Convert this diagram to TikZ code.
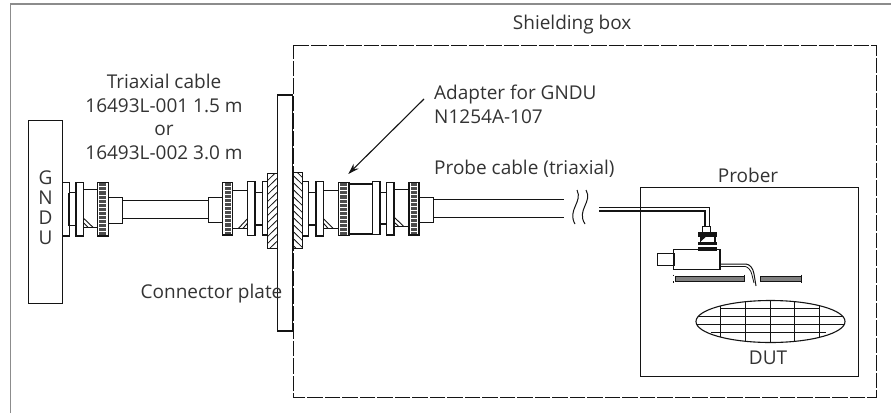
\documentclass[tikz,border=0pt]{standalone}
\usepackage{fontspec}
\setmainfont{Open Sans}
\usetikzlibrary{arrows.meta,shapes.geometric}
\definecolor{ink}{HTML}{141414}
\definecolor{txt}{HTML}{333333}
\definecolor{framegray}{HTML}{8C8C8C}
\tikzset{
  part/.style={draw=ink,line width=1.1pt,fill=white},
  lbl/.style={font=\fontsize{19}{23.5}\selectfont,text=txt,inner sep=0pt,align=center},
  cablew/.style={draw=ink,line width=1.2pt},
  hatchl/.style={draw=ink,line width=0.8pt},
}
% knurled ring: x1 x2 y1 y2
\newcommand{\knurlring}[4]{%
  \draw[part] (#1,#3) rectangle (#2,#4);
  \fill[black!70] ({#1+2},#3) rectangle ({#2-2},#4);
  \pgfmathsetmacro{\kstep}{(#4-#3)/13}
  \foreach \ki in {1,...,12}{
    \draw[white,line width=0.9pt] (#1,{#3+\ki*\kstep}) -- (#2,{#3+\ki*\kstep});
  }
  \draw[draw=ink,line width=1.1pt] (#1,#3) rectangle (#2,#4);
}
% hatched block: x1 x2 y1 y2 direction(+1/-1)
\newcommand{\hatchblock}[5]{%
  \begin{scope}
    \clip (#1,#3) rectangle (#2,#4);
    \foreach \hy in {-20,-13,...,100}{
      \draw[hatchl] ({#1-1},{#3+\hy}) -- ({#1+30},{#3+\hy+#5*30});
    }
  \end{scope}
  \draw[draw=ink,line width=1.1pt] (#1,#3) rectangle (#2,#4);
}
\begin{document}
\begin{tikzpicture}[x=1pt,y=-1pt]
\useasboundingbox (0,0) rectangle (891,413);
% outer frame
\draw[framegray,line width=1.5pt] (10.5,413) -- (10.5,4) -- (891,4);
% shielding box
\draw[draw=ink,line width=0.95pt,dash pattern=on 15.5pt off 2pt] (293.6,45) -- (876,45) -- (876,397) -- (293.6,397) -- cycle;
% connector plate
\draw[part,fill=none] (277.3,95) rectangle (292.3,331);
% GNDU
\node[draw=ink,line width=1.1pt,minimum width=34pt,minimum height=182.5pt,inner sep=0pt,anchor=north west] (gndu) at (28,120) {};
\node[lbl] (gG) at (45.5,178) {G};
\node[lbl] (gN) at (45.5,198) {N};
\node[lbl] (gD) at (45.5,218) {D};
\node[lbl] (gU) at (45.5,238) {U};
% left connector
\draw[part] (62.3,182.7) rectangle (69.3,236);
\draw[part] (69.3,192.7) rectangle (76,225.7);
\draw[draw=ink,line width=1.8pt] (69.3,192.7) -- (69.3,225.7) (76,192.7) -- (76,225.7);
\draw[part] (76,182.7) rectangle (83.3,236);
\draw[part] (83.3,189.3) rectangle (97.3,227.3);
\draw[ink,line width=0.9pt] (83.3,218) -- (93,227.3) (83.3,222.5) -- (88,227.3);
\knurlring{97.3}{108.3}{182.7}{236}
\draw[part] (108.3,197.3) rectangle (122.3,223.3);
\draw[cablew] (122.3,200.7) -- (208.3,200.7) (122.3,218.7) -- (208.3,218.7);
\draw[part] (208.3,197.3) rectangle (222.7,222.3);
\knurlring{222.7}{232.7}{182.7}{235}
\draw[part] (232.7,190.7) rectangle (247.7,228.3);
\draw[ink,line width=0.9pt] (247.7,218.5) -- (238.5,228.3) (247.7,223) -- (243,228.3);
\draw[part] (247.7,181.7) rectangle (255,235.7);
\draw[part] (255,192.7) rectangle (262.3,225);
\draw[part] (262.3,181.7) rectangle (267.7,235);
\hatchblock{267.7}{277.3}{173.3}{248.3}{-1}
% right connector
\hatchblock{292.3}{302.7}{172.7}{248.3}{1}
\draw[draw=ink,line width=2pt] (292.6,172.7) -- (292.6,248.3);
\draw[part] (302.7,181.7) rectangle (308.7,236);
\draw[part] (308.7,192.7) rectangle (316,225);
\draw[part] (316,181.7) rectangle (323.3,236);
\draw[part] (323.3,190.7) rectangle (338.3,228.3);
\draw[ink,line width=0.9pt] (323.3,218.5) -- (333,228.3) (323.3,223) -- (328,228.3);
\knurlring{338.3}{349}{182.7}{235.7}
\draw[part] (349,184) rectangle (372.7,234);
\draw[part] (372.7,181.7) rectangle (380,234.3);
\draw[part] (380,192.7) rectangle (386.7,224);
\draw[draw=ink,line width=1.8pt] (386.7,192.7) -- (386.7,224);
\draw[part] (386.7,182.7) rectangle (394,235);
\draw[part] (394,189.3) rectangle (409,226.7);
\draw[ink,line width=0.9pt] (394,217) -- (404,226.7) (394,222) -- (399,226.7);
\knurlring{409}{419}{182.7}{235}
\draw[part] (419,197.3) rectangle (433.3,222.3);
\draw[cablew] (433.3,199.7) -- (563.5,199.7) (433.3,217.3) -- (563.5,217.3);
% break marks
\draw[ink,line width=1pt] (577,190) .. controls (583,202) and (567,210) .. (575,224);
\draw[ink,line width=1pt] (586,190) .. controls (593,202) and (576,210) .. (585,224);
% prober
\draw[draw=ink,line width=1.1pt] (640.7,187.3) rectangle (858.3,376.7);
\node[lbl] (prober) at (748,175) {Prober};
% thin cable
\draw[ink,line width=1.1pt] (599,207.2) -- (709.5,207.2) -- (709.5,226.7);
\draw[ink,line width=1.1pt] (599,211) -- (705,211) -- (705,226.7);
% probe head
\draw[part] (702.7,226.7) rectangle (710.7,232.3);
\fill[ink] (698.3,232.3) rectangle (716.7,236.7);
\draw[part] (700.7,236.7) rectangle (715,242.3);
\fill[ink] (700.7,236.7) -- (706,236.7) -- (700.7,241.5) -- cycle;
\fill[ink] (698.3,242.3) rectangle (716.7,244.8);
\draw[part] (673.3,249.3) rectangle (720,269.3);
\fill[ink] (698.3,246.8) rectangle (716.7,251);
\draw[part] (657.3,253.3) rectangle (674,265.3);
\draw[draw=ink,line width=1.5pt] (673.3,253.3) -- (673.3,265.3);
% needle
\draw[ink,line width=1pt] (720,264) -- (746,264) .. controls (750,264.5) and (753,268) .. (754,274) -- (756,286);
\draw[ink,line width=0.8pt] (720,266.4) -- (745,266.4) .. controls (748,267) and (751,270) .. (752,275) -- (754,283);
% chuck bars
\draw[draw=ink,line width=0.7pt,fill=black!50] (675,276.5) rectangle (744,281);
\draw[draw=ink,line width=0.7pt,fill=black!50] (760,276.5) rectangle (801,281);
\draw[ink,line width=0.7pt] (673.3,274.5) -- (673.3,275.5) (673.3,281) -- (673.3,282.5) (744,274.5) -- (744,275.5) (801,274.5) -- (801,282.5);
% wafer
\begin{scope}
  \clip (770.5,321.5) ellipse [x radius=74.5, y radius=21];
  \draw[ink,line width=1pt] (720.7,295) -- (720.7,345) (745.7,295) -- (745.7,345) (770,295) -- (770,345) (794.7,295) -- (794.7,345) (819.3,295) -- (819.3,345);
  \draw[ink,line width=1pt] (720.7,308.3) -- (820,308.3) (690,316.7) -- (850,316.7) (690,324.7) -- (850,324.7) (711,332.7) -- (826,332.7);
\end{scope}
\node[draw=ink,line width=1.1pt,ellipse,minimum width=149pt,minimum height=42pt,inner sep=0pt] (wafer) at (770.5,321.5) {};
\node[lbl] (dut) at (768,357.7) {DUT};
% labels
\node[lbl] (cable) at (164,117) {Triaxial cable\\16493L-001 1.5 m\\or\\16493L-002 3.0 m};
\node[lbl] (plate) at (211.5,294) {Connector plate};
\node[lbl,anchor=west] (shield) at (512.7,25) {Shielding box};
\node[lbl,anchor=north west,align=left] (adapter) at (434,85) {Adapter for GNDU\\N1254A-107};
\node[lbl,anchor=west] (probe) at (434,169) {Probe cable (triaxial)};
% arrow
\coordinate (arrtip) at (348.3,174);
\coordinate (arrstart) at (424,99);
\draw[ink,line width=1.1pt,-{Stealth[length=11pt,width=7pt]}] (arrstart) -- (arrtip);
\end{tikzpicture}
\end{document}
